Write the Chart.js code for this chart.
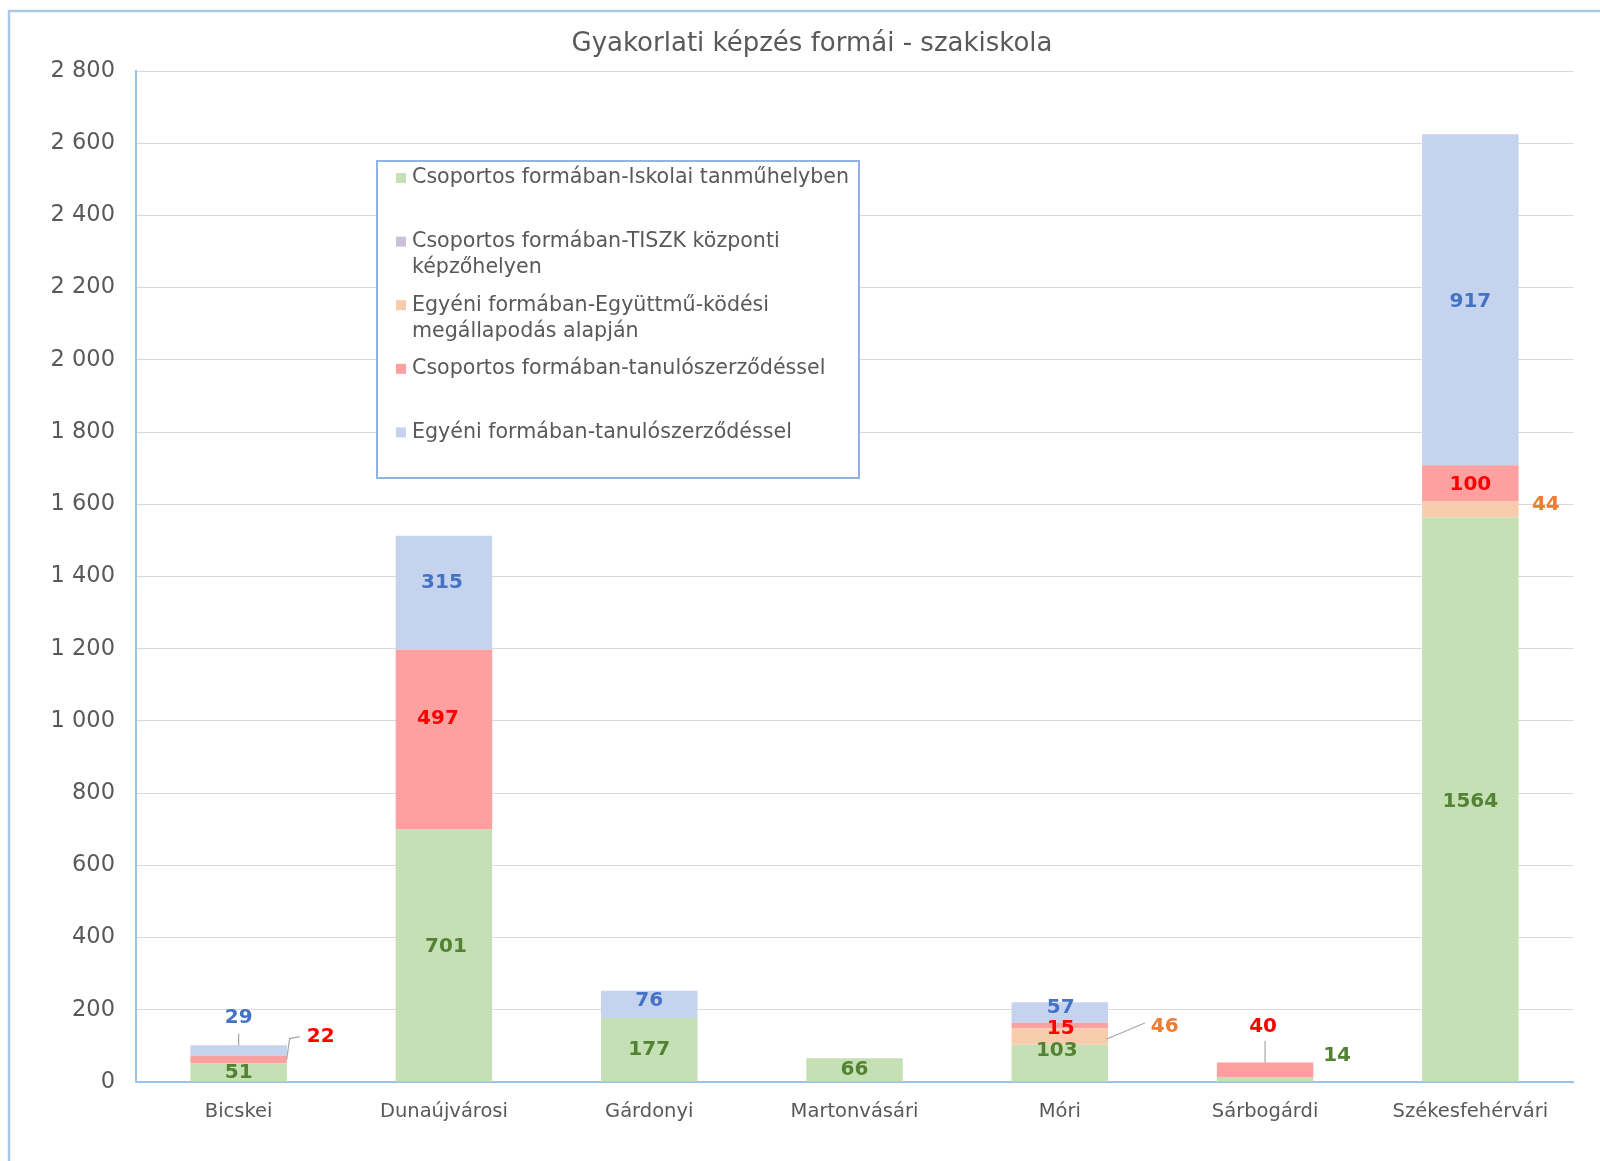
<!DOCTYPE html>
<html>
<head>
<meta charset="utf-8">
<script src="https://cdn.jsdelivr.net/npm/chart.js@4"></script>
<style>
  html, body { margin: 0; padding: 0; background: #ffffff; }
  #wrap { position: relative; width: 1600px; height: 1161px; }
</style>
</head>
<body>
<div id="wrap"><canvas id="c"></canvas></div>
<script>
// ---- data ----
const titleText = 'Gyakorlati képzés formái - szakiskola';
const categories = ['Bicskei', 'Dunaújvárosi', 'Gárdonyi', 'Martonvásári', 'Móri', 'Sárbogárdi', 'Székesfehérvári'];
const seriesNames = [
  'Csoportos formában-Iskolai tanműhelyben',
  'Csoportos formában-TISZK központi képzőhelyen',
  'Egyéni formában-Együttmű-ködési megállapodás alapján',
  'Csoportos formában-tanulószerződéssel',
  'Egyéni formában-tanulószerződéssel'
];
const iskolaiTanmuhely = [51, 701, 177, 66, 103, 14, 1564];
const tiszkKozponti   = [0, 0, 0, 0, 0, 0, 0];
const egyuttmukodesi  = [0, 0, 0, 0, 46, 0, 44];
const csoportosTanulo = [22, 497, 0, 0, 15, 40, 100];
const egyeniTanulo    = [29, 315, 76, 0, 57, 0, 917];
const yTickValues = [0, 200, 400, 600, 800, 1000, 1200, 1400, 1600, 1800, 2000, 2200, 2400, 2600, 2800];
const yTickLabels = ['0', '200', '400', '600', '800', '1 000', '1 200', '1 400', '1 600', '1 800', '2 000', '2 200', '2 400', '2 600', '2 800'];

// ---- styles ----
const FONT = "'DejaVu Sans', 'Liberation Sans', Arial, sans-serif";
const fillColors = ['#c5e0b4', '#ccc0da', '#f8cbad', '#ffa0a0', '#c5d3ee'];
const labelColors = ['#548235', '#7030a0', '#ed7d31', '#ff0000', '#4472c4'];
// label offsets relative to segment centre: "datasetIndex,categoryIndex"
const labelAdjust = {
  '3,0': { dx: 82, dy: -23, leader: [[48, 0], [51, -21], [61, -23]] },
  '4,0': { dx: 0, dy: -33, leader: [[0, -5], [0, -17]] },
  '0,1': { dx: 2, dy: -8 },
  '3,1': { dx: -6, dy: -20 },
  '4,1': { dx: -2, dy: -10 },
  '4,2': { dx: 0, dy: -4 },
  '0,4': { dx: -3, dy: -12 },
  '2,4': { dx: 105, dy: -10, leader: [[47, 2.5], [85, -13.5]] },
  '3,4': { dx: 1, dy: 3.5 },
  '4,4': { dx: 1, dy: -4.5 },
  '0,5': { dx: 72, dy: -23 },
  '3,5': { dx: -2, dy: -43, leader: [[0, -7], [0, -29]] },
  '0,6': { dx: 0, dy: 2 },
  '2,6': { dx: 75.5, dy: -4.6 },
  '3,6': { dx: 0, dy: 1 },
  '4,6': { dx: 0, dy: 2 }
};

const seriesData = [iskolaiTanmuhely, tiszkKozponti, egyuttmukodesi, csoportosTanulo, egyeniTanulo];

const decorPlugin = {
  id: 'decor',
  beforeDraw(chart) {
    const ctx = chart.ctx;
    ctx.save();
    ctx.fillStyle = '#ffffff';
    ctx.fillRect(0, 0, chart.width, chart.height);
    ctx.strokeStyle = '#a9c7ea';
    ctx.lineWidth = 2.5;
    ctx.strokeRect(9, 11, 1800, 1400);
    // title
    ctx.fillStyle = '#595959';
    ctx.font = '26px ' + FONT;
    ctx.textAlign = 'center';
    ctx.textBaseline = 'middle';
    ctx.fillText(titleText, 812, 44);
    ctx.restore();
  },
  afterDatasetsDraw(chart) {
    const ctx = chart.ctx;
    ctx.save();
    // data labels
    ctx.font = 'bold 20px ' + FONT;
    ctx.textAlign = 'center';
    ctx.textBaseline = 'middle';
    chart.data.datasets.forEach((ds, i) => {
      const meta = chart.getDatasetMeta(i);
      meta.data.forEach((bar, j) => {
        const v = ds.data[j];
        if (!v) return;
        const cx = bar.x, cy = (bar.y + bar.base) / 2;
        const a = labelAdjust[i + ',' + j] || {};
        if (a.leader) {
          ctx.strokeStyle = '#a6a6a6';
          ctx.lineWidth = 1.2;
          ctx.beginPath();
          a.leader.forEach((p, k) => {
            if (k === 0) ctx.moveTo(cx + p[0], cy + p[1]);
            else ctx.lineTo(cx + p[0], cy + p[1]);
          });
          ctx.stroke();
        }
        ctx.fillStyle = labelColors[i];
        ctx.fillText(String(v), cx + (a.dx || 0), cy + (a.dy || 0));
      });
    });
    // legend
    const lx = 377, ly = 161, lw = 482, lh = 317;
    ctx.fillStyle = '#ffffff';
    ctx.fillRect(lx, ly, lw, lh);
    ctx.strokeStyle = '#8fb4e3';
    ctx.lineWidth = 2;
    ctx.strokeRect(lx, ly, lw, lh);
    ctx.font = '20.6px ' + FONT;
    ctx.textAlign = 'left';
    ctx.textBaseline = 'middle';
    const maxW = 440;
    chart.data.datasets.forEach((ds, i) => {
      const y0 = 178 + i * 63.6;
      ctx.fillStyle = fillColors[i];
      ctx.fillRect(396, y0 - 5, 10, 10);
      // wrap words
      const words = ds.label.split(' ');
      const lines = [];
      let cur = '';
      words.forEach(w => {
        const t = cur ? cur + ' ' + w : w;
        if (ctx.measureText(t).width > maxW && cur) { lines.push(cur); cur = w; }
        else cur = t;
      });
      if (cur) lines.push(cur);
      ctx.fillStyle = '#595959';
      lines.forEach((ln, k) => ctx.fillText(ln, 412, y0 + k * 26));
    });
    ctx.restore();
  }
};

new Chart(document.getElementById('c'), {
  type: 'bar',
  data: {
    labels: categories,
    datasets: seriesNames.map((name, i) => ({
      label: name,
      data: seriesData[i],
      backgroundColor: fillColors[i],
      borderWidth: 0,
      categoryPercentage: 1,
      barPercentage: 0.47
    }))
  },
  options: {
    responsive: true,
    maintainAspectRatio: false,
    animation: false,
    devicePixelRatio: 1,
    layout: { padding: { top: 71, right: 27, left: 0, bottom: 0 } },
    plugins: {
      legend: { display: false },
      title: { display: false },
      tooltip: { enabled: false }
    },
    scales: {
      x: {
        stacked: true,
        grid: { display: false, drawTicks: false },
        border: { display: true, color: '#9dc3e6', width: 2 },
        ticks: { color: '#595959', font: { family: FONT, size: 19.5 }, padding: 18, maxRotation: 0 },
        afterFit(scale) { scale.height = 79; }
      },
      y: {
        stacked: true,
        min: 0,
        max: 2800,
        afterBuildTicks(scale) { scale.ticks = yTickValues.map(v => ({ value: v })); },
        grid: { color: '#d9d9d9', lineWidth: 1, drawTicks: false },
        border: { display: true, color: '#9dc3e6', width: 2 },
        ticks: {
          color: '#595959',
          font: { family: FONT, size: 22.5 },
          padding: 21,
          callback(v) { const k = yTickValues.indexOf(v); return k >= 0 ? yTickLabels[k] : ''; }
        },
        afterFit(scale) { scale.width = 136; }
      }
    }
  },
  plugins: [decorPlugin]
});
</script>
</body>
</html>
